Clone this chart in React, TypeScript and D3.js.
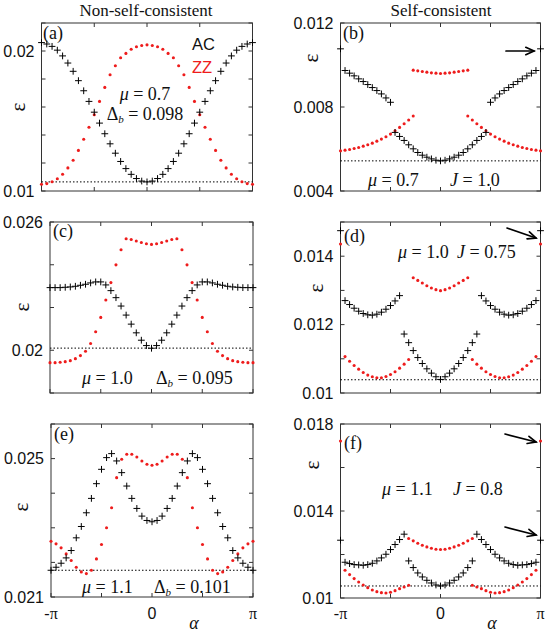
import * as d3 from 'd3'

const PI = Math.PI
const SERIF = '"Liberation Serif", "Times New Roman", serif'
const SANS = '"Liberation Sans", Arial, sans-serif'
const RED = '#ee1c1c'

// α is sampled evenly on [-π, π]: 41 points on the left column, 45 on the right
const N_LEFT = 41
const N_RIGHT = 45

const X_TICKS = [-PI, -PI / 2, 0, PI / 2, PI]
const X_TICK_TEXT = [[-PI, '-π'], [0, '0'], [PI, 'π']]

// (a) non-self-consistent, mu = 0.7
const acA = [0.02060, 0.02050, 0.02033, 0.02006, 0.01965, 0.01914, 0.01855, 0.01788, 0.01716, 0.01640, 0.01563,
  0.01485, 0.01409, 0.01337, 0.01270, 0.01211, 0.01160, 0.01119, 0.01089, 0.01071, 0.01065,
  0.01071, 0.01089, 0.01119, 0.01160, 0.01211, 0.01270, 0.01337, 0.01409, 0.01485, 0.01563,
  0.01640, 0.01716, 0.01788, 0.01855, 0.01914, 0.01965, 0.02006, 0.02033, 0.02050, 0.02060]
const zzA = [0.01048, 0.01053, 0.01066, 0.01088, 0.01120, 0.01165, 0.01220, 0.01290, 0.01370, 0.01455, 0.01545,
  0.01640, 0.01740, 0.01830, 0.01895, 0.01952, 0.01983, 0.02012, 0.02030, 0.02039, 0.02044,
  0.02039, 0.02030, 0.02012, 0.01983, 0.01952, 0.01895, 0.01830, 0.01740, 0.01640, 0.01545,
  0.01455, 0.01370, 0.01290, 0.01220, 0.01165, 0.01120, 0.01088, 0.01066, 0.01053, 0.01048]

// (b) self-consistent, mu = 0.7, J = 1.0
const acB = [0.01077,
  0.009738, 0.009611, 0.009483, 0.009340, 0.009212, 0.009069, 0.008925, 0.008782, 0.008623, 0.008431, 0.008224,
  0.006790, 0.006598, 0.006407, 0.006200, 0.006008, 0.005833, 0.005706, 0.005610, 0.005530, 0.005466, 0.005435,
  0.005466, 0.005530, 0.005610, 0.005706, 0.005833, 0.006008, 0.006200, 0.006407, 0.006598, 0.006790,
  0.008224, 0.008431, 0.008623, 0.008782, 0.008925, 0.009069, 0.009212, 0.009340, 0.009483, 0.009611, 0.009738,
  0.01077]
const zzBLeft = [0.005913, 0.005945, 0.005977, 0.006024, 0.006072, 0.006136, 0.006200, 0.006279, 0.006375,
  0.006471, 0.006582, 0.006710, 0.006869, 0.007029, 0.007204, 0.007379, 0.007571]
const zzBMid = [0.009754, 0.009722, 0.009691, 0.009659, 0.009627, 0.009611, 0.009595, 0.009611, 0.009627,
  0.009659, 0.009691, 0.009722, 0.009754]
const zzBRight = [0.007571, 0.007379, 0.007204, 0.007029, 0.006869, 0.006710, 0.006582, 0.006471, 0.006375,
  0.006279, 0.006200, 0.006136, 0.006072, 0.006024, 0.005977, 0.005945, 0.005913]

// (c) non-self-consistent, mu = 1.0
const acC = [0.02293, 0.02293, 0.02293, 0.022946, 0.022962, 0.022993, 0.02304, 0.023087, 0.02315, 0.023197, 0.023197,
  0.023056, 0.022789, 0.02246, 0.022068, 0.021645, 0.021222, 0.020815, 0.02047, 0.020219, 0.020094,
  0.020219, 0.02047, 0.020815, 0.021222, 0.021645, 0.022068, 0.02246, 0.022789, 0.023056,
  0.023197, 0.023197, 0.02315, 0.023087, 0.02304, 0.022993, 0.022962, 0.022946, 0.02293, 0.02293, 0.02293]
const zzC = [0.01942, 0.01942, 0.019436, 0.019467, 0.019514, 0.019608, 0.019749, 0.019953, 0.020313, 0.020862, 0.021536,
  0.022351, 0.023165, 0.023996, 0.024701, 0.025218, 0.02518, 0.02511, 0.02504, 0.024983, 0.024952,
  0.024983, 0.02504, 0.02511, 0.02518, 0.025218, 0.024701, 0.023996, 0.023165, 0.022351,
  0.021536, 0.020862, 0.020313, 0.019953, 0.019749, 0.019608, 0.019514, 0.019467, 0.019436, 0.01942, 0.01942]

// (d) self-consistent, mu = 1.0, J = 0.75
const acD = [0.014746,
  0.012702, 0.012586, 0.012479, 0.012392, 0.012324, 0.012286, 0.012276, 0.012305, 0.012363, 0.01245, 0.012557, 0.012692, 0.012847,
  0.011724, 0.011472, 0.01124, 0.011036, 0.010862, 0.010707, 0.010581, 0.010475, 0.010397,
  0.010475, 0.010581, 0.010707, 0.010862, 0.011036, 0.01124, 0.011472, 0.011724,
  0.012847, 0.012692, 0.012557, 0.01245, 0.012363, 0.012305, 0.012276, 0.012286, 0.012324, 0.012392, 0.012479, 0.012586, 0.012702,
  0.014746]
const zzD = [0.014358,
  0.011065, 0.01093, 0.010804, 0.010697, 0.0106, 0.010523, 0.010475, 0.010446, 0.010446, 0.010484, 0.010542, 0.01062, 0.010726, 0.010843, 0.010978,
  0.01337, 0.013293, 0.013215, 0.013138, 0.01307, 0.013022, 0.012993, 0.013022, 0.01307, 0.013138, 0.013215, 0.013293, 0.01337,
  0.010978, 0.010843, 0.010726, 0.01062, 0.010542, 0.010484, 0.010446, 0.010446, 0.010475, 0.010523, 0.0106, 0.010697, 0.010804, 0.01093, 0.011065,
  0.014358]

// (e) non-self-consistent, mu = 1.1
const acE = [0.021773, 0.02186, 0.021976, 0.02213, 0.022343, 0.02271, 0.023038, 0.023434, 0.02385, 0.024275, 0.02469,
  0.025028, 0.025144, 0.024932, 0.024594, 0.024207, 0.02385, 0.02356, 0.023338, 0.023212, 0.023174,
  0.023212, 0.023338, 0.02356, 0.02385, 0.024207, 0.024594, 0.024932, 0.025144, 0.025028,
  0.02469, 0.024275, 0.02385, 0.023434, 0.023038, 0.02271, 0.022343, 0.02213, 0.021976, 0.02186, 0.021773]
const zzE = [0.022613, 0.022536, 0.02242, 0.022246, 0.022053, 0.02186, 0.021725, 0.021676, 0.021773, 0.022101, 0.022517,
  0.023, 0.023579, 0.024449, 0.02498, 0.025125, 0.025125, 0.025048, 0.024932, 0.024835, 0.024806,
  0.024835, 0.024932, 0.025048, 0.025125, 0.025125, 0.02498, 0.024449, 0.023579, 0.023,
  0.022517, 0.022101, 0.021773, 0.021676, 0.021725, 0.02186, 0.022053, 0.022246, 0.02242, 0.022536, 0.022613]

// (f) self-consistent, mu = 1.1, J = 0.8
const acF = [0.012657,
  0.011644, 0.011582, 0.011536, 0.011521, 0.011505, 0.011536, 0.011597, 0.011705, 0.011843, 0.012012, 0.012227, 0.012458, 0.012688, 0.012934,
  0.011705, 0.011398, 0.011152, 0.010968, 0.010814, 0.010691, 0.010599, 0.010553,
  0.010599, 0.010691, 0.010814, 0.010968, 0.011152, 0.011398, 0.011705,
  0.012934, 0.012688, 0.012458, 0.012227, 0.012012, 0.011843, 0.011705, 0.011597, 0.011536, 0.011505, 0.011521, 0.011536, 0.011582, 0.011644,
  0.012657]
const zzFEdge = [0.017219]
const zzFLeft = [0.011275, 0.011075, 0.010891, 0.010737, 0.010599, 0.010476, 0.010369, 0.010292, 0.010246, 0.01023,
  0.010261, 0.010338, 0.01043, 0.010507, 0.010584]
const zzFMid = [0.012734, 0.012627, 0.012519, 0.012427, 0.01235, 0.012289, 0.012243, 0.012227, 0.012243, 0.012289,
  0.01235, 0.012427, 0.012519, 0.012627, 0.012734]
const zzFRight = [0.010584, 0.010507, 0.01043, 0.010338, 0.010261, 0.01023, 0.010246, 0.010292, 0.010369, 0.010476,
  0.010599, 0.010737, 0.010891, 0.011075, 0.011275]

const panels = [
  {
    tag: '(a)', box: [41.5, 23, 252.5, 191], yDomain: [0.01, 0.022],
    yTicks: [0.01, 0.012, 0.014, 0.016, 0.018, 0.02, 0.022], yTickText: [[0.01, '0.01'], [0.02, '0.02']],
    ac: [{ n: N_LEFT, from: 0, eps: acA }], zz: [{ n: N_LEFT, from: 0, eps: zzA }],
    floor: 0.01065, eps: [19, 107], tagPos: [43, 39],
    params: [{ x: 145, y: 100, sym: 'μ', val: '0.7', anchor: 'middle' }, { x: 145, y: 120, sym: 'Δ', val: '0.098', anchor: 'middle' }],
    arrows: [],
  },
  {
    tag: '(b)', box: [340.5, 23, 540.5, 191], yDomain: [0.004, 0.012],
    yTicks: [0.004, 0.008, 0.012], yTickText: [[0.004, '0.004'], [0.008, '0.008'], [0.012, '0.012']],
    ac: [{ n: N_RIGHT, from: 0, eps: acB }],
    zz: [{ n: N_RIGHT, from: 0, eps: zzBLeft }, { n: N_RIGHT, from: 16, eps: zzBMid }, { n: N_RIGHT, from: 28, eps: zzBRight }],
    floor: 0.005435, eps: [312, 58], tagPos: [343, 39],
    params: [{ x: 368, y: 186, sym: 'μ', val: '0.7' }, { x: 450, y: 186, sym: 'J', val: '1.0' }],
    arrows: [[506, 51, 534, 51]],
  },
  {
    tag: '(c)', box: [50, 222, 253, 393], yDomain: [0.018, 0.026],
    yTicks: [0.018, 0.02, 0.022, 0.024, 0.026], yTickText: [[0.02, '0.02'], [0.026, '0.026']],
    ac: [{ n: N_LEFT, from: 0, eps: acC }], zz: [{ n: N_LEFT, from: 0, eps: zzC }],
    floor: 0.0201, eps: [23, 307], tagPos: [53, 237],
    params: [{ x: 82, y: 384, sym: 'μ', val: '1.0' }, { x: 156, y: 384, sym: 'Δ', val: '0.095' }],
    arrows: [],
  },
  {
    tag: '(d)', box: [340.5, 222, 540.5, 393], yDomain: [0.01, 0.015],
    yTicks: [0.01, 0.011, 0.012, 0.013, 0.014, 0.015], yTickText: [[0.01, '0.01'], [0.012, '0.012'], [0.014, '0.014']],
    ac: [{ n: N_RIGHT, from: 0, eps: acD }], zz: [{ n: N_RIGHT, from: 0, eps: zzD }],
    floor: 0.010387, eps: [317, 288], tagPos: [344, 242],
    params: [{ x: 398, y: 258, sym: 'μ', val: '1.0' }, { x: 457, y: 258, sym: 'J', val: '0.75' }],
    arrows: [[507, 228, 536, 238]],
  },
  {
    tag: '(e)', box: [51, 424, 253, 597], yDomain: [0.021, 0.026],
    yTicks: [0.021, 0.022, 0.023, 0.024, 0.025, 0.026], yTickText: [[0.021, '0.021'], [0.025, '0.025']],
    ac: [{ n: N_LEFT, from: 0, eps: acE }], zz: [{ n: N_LEFT, from: 0, eps: zzE }],
    floor: 0.021773, eps: [22, 507], tagPos: [54, 440],
    params: [{ x: 82, y: 593, sym: 'μ', val: '1.1' }, { x: 154, y: 593, sym: 'Δ', val: '0.101' }],
    arrows: [], bottom: true, alphaX: 194,
  },
  {
    tag: '(f)', box: [340.5, 424, 540.5, 598], yDomain: [0.01, 0.018],
    yTicks: [0.01, 0.012, 0.014, 0.016, 0.018], yTickText: [[0.01, '0.01'], [0.014, '0.014'], [0.018, '0.018']],
    ac: [{ n: N_RIGHT, from: 0, eps: acF }],
    zz: [{ n: N_RIGHT, from: 0, eps: zzFEdge }, { n: N_RIGHT, from: 1, eps: zzFLeft }, { n: N_RIGHT, from: 15, eps: zzFMid },
      { n: N_RIGHT, from: 29, eps: zzFRight }, { n: N_RIGHT, from: 44, eps: zzFEdge }],
    floor: 0.010553, eps: [313, 465], tagPos: [344, 449],
    params: [{ x: 382, y: 495, sym: 'μ', val: '1.1' }, { x: 453, y: 495, sym: 'J', val: '0.8' }],
    arrows: [[505, 434, 536, 442], [505, 527, 536, 535]], bottom: true, alphaX: 492,
  },
]

const alphaAt = (n, i) => -PI + (2 * PI * i) / (n - 1)

function toPoints(branches) {
  return branches.flatMap(b => b.eps.map((e, k) => ({ a: alphaAt(b.n, b.from + k), e })))
}

function Param({ x, y, sym, val, anchor = 'start' }) {
  return (
    <text x={x} y={y} fontFamily={SERIF} fontSize={18} textAnchor={anchor} fill="#111">
      {sym === 'Δ' ? (
        <>
          <tspan>Δ</tspan>
          <tspan fontStyle="italic" fontSize={11} dy={3}>b</tspan>
          <tspan dy={-3}>{' = ' + val}</tspan>
        </>
      ) : (
        <>
          <tspan fontStyle="italic">{sym}</tspan>
          <tspan>{' = ' + val}</tspan>
        </>
      )}
    </text>
  )
}

function Arrow({ a }) {
  const [x1, y1, x2, y2] = a
  const ang = Math.atan2(y2 - y1, x2 - x1)
  const L = 9, w = 0.42
  const h1 = [x2 - L * Math.cos(ang - w), y2 - L * Math.sin(ang - w)]
  const h2 = [x2 - L * Math.cos(ang + w), y2 - L * Math.sin(ang + w)]
  return (
    <g stroke="#000" strokeWidth={1.7} fill="none" strokeLinecap="round">
      <line x1={x1} y1={y1} x2={x2} y2={y2} />
      <path d={`M${h1[0]},${h1[1]}L${x2},${y2}L${h2[0]},${h2[1]}`} />
    </g>
  )
}

function Panel({ p }) {
  const [x0, y0, x1, y1] = p.box
  const x = d3.scaleLinear().domain([-PI, PI]).range([x0, x1])
  const y = d3.scaleLinear().domain(p.yDomain).range([y1, y0])
  const tk = 4
  const acPts = toPoints(p.ac)
  const zzPts = toPoints(p.zz)
  return (
    <g>
      <rect x={x0} y={y0} width={x1 - x0} height={y1 - y0} fill="#fff" stroke="#333" strokeWidth={1} />
      <g stroke="#333" strokeWidth={1}>
        {X_TICKS.map((t, i) => (
          <g key={'x' + i}>
            <line x1={x(t)} x2={x(t)} y1={y1} y2={y1 - tk} />
            <line x1={x(t)} x2={x(t)} y1={y0} y2={y0 + tk} />
          </g>
        ))}
        {p.yTicks.map((t, i) => (
          <g key={'y' + i}>
            <line x1={x0} x2={x0 + tk} y1={y(t)} y2={y(t)} />
            <line x1={x1} x2={x1 - tk} y1={y(t)} y2={y(t)} />
          </g>
        ))}
      </g>
      {p.yTickText.map(([v, s]) => (
        <text key={s} x={x0 - 7} y={y(v)} dy="0.36em" textAnchor="end" fontFamily={SANS} fontSize={16} fill="#111">{s}</text>
      ))}
      <line x1={x0} x2={x1} y1={y(p.floor)} y2={y(p.floor)} stroke="#000" strokeWidth={1} strokeDasharray="1.5,2" />
      {zzPts.map((d, i) => (
        <circle key={'z' + i} cx={x(d.a)} cy={y(d.e)} r={1.55} fill={RED} />
      ))}
      {acPts.map((d, i) => (
        <path key={'c' + i} d={`M${x(d.a) - 3.4},${y(d.e)}h6.8M${x(d.a)},${y(d.e) - 3.4}v6.8`} stroke="#000" strokeWidth={1} />
      ))}
      <text x={p.tagPos[0]} y={p.tagPos[1]} fontFamily={SERIF} fontSize={18} fill="#111">{p.tag}</text>
      <text transform={`translate(${p.eps[0]},${p.eps[1]}) rotate(-90)`} textAnchor="middle" dy="0.3em"
        fontFamily={SERIF} fontSize={21} fill="#111">ε</text>
      {p.params.map((q, i) => <Param key={i} {...q} />)}
      {p.arrows.map((a, i) => <Arrow key={i} a={a} />)}
      {p.bottom && (
        <g>
          {X_TICK_TEXT.map(([v, s]) => (
            <text key={s} x={x(v)} y={619} textAnchor="middle" fontFamily={s === '0' ? SANS : SERIF}
              fontSize={16} fill="#111">{s}</text>
          ))}
          <text x={p.alphaX} y={629} textAnchor="middle" fontFamily={SERIF} fontStyle="italic" fontSize={18} fill="#111">α</text>
        </g>
      )}
    </g>
  )
}

export default function App() {
  return (
    <svg width={547} height={633} style={{ position: 'absolute', left: 0, top: 0, background: '#fff' }}>
      <rect width={547} height={633} fill="#fff" />
      <text x={146} y={16} textAnchor="middle" fontFamily={SERIF} fontSize={17} fill="#111">Non-self-consistent</text>
      <text x={441} y={16} textAnchor="middle" fontFamily={SERIF} fontSize={17} fill="#111">Self-consistent</text>
      {panels.map(p => <Panel key={p.tag} p={p} />)}
      <text x={192} y={50} fontFamily={SANS} fontSize={16.5} fill="#111">AC</text>
      <text x={192} y={73} fontFamily={SANS} fontSize={16.5} fill={RED}>ZZ</text>
    </svg>
  )
}
